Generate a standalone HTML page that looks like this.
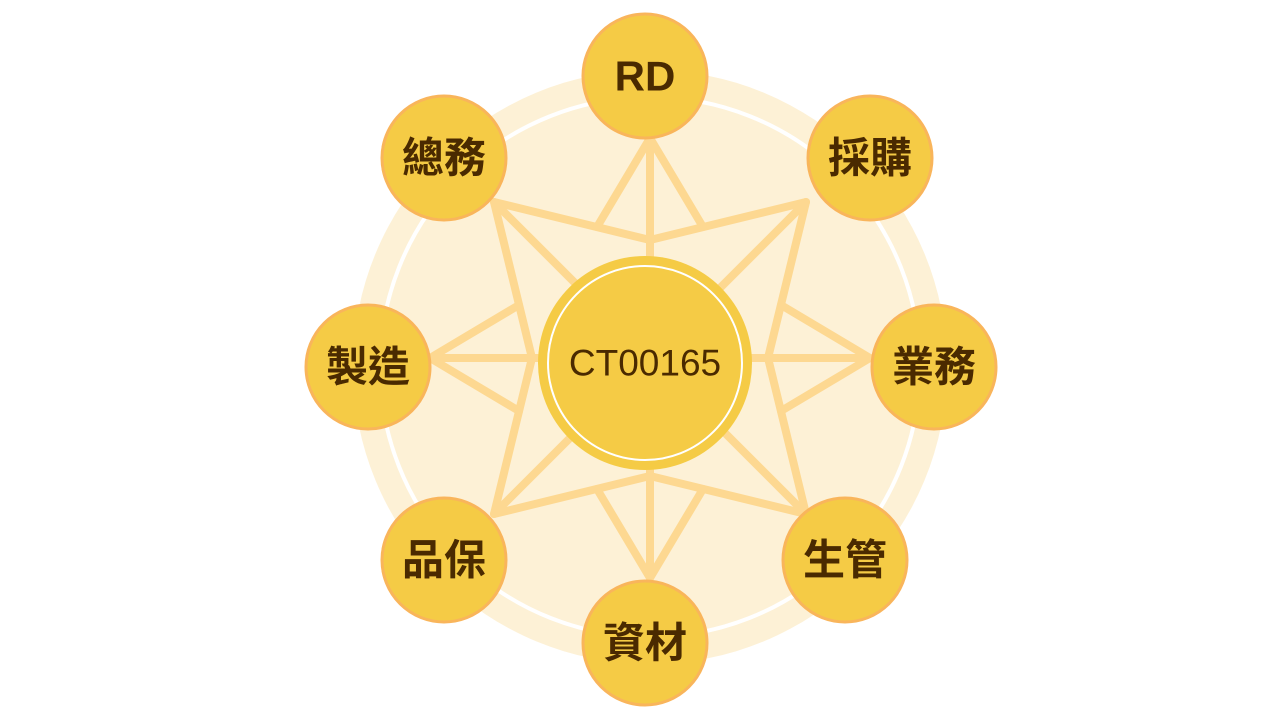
<!DOCTYPE html>
<html><head><meta charset="utf-8"><style>
html,body{margin:0;padding:0;background:#fff;width:1280px;height:720px;overflow:hidden}
svg{display:block}
.n{fill:#F5CB45;stroke:#F9B55B;stroke-width:3}
.t{font-family:"Liberation Sans","Noto Sans CJK TC",sans-serif;font-weight:bold;font-size:42px;fill:#4A2A00;text-anchor:middle;dominant-baseline:central}
</style></head><body>
<svg width="1280" height="720" viewBox="0 0 1280 720">
<circle cx="650" cy="367" r="297" fill="#FDF1D6"/>
<circle cx="650" cy="367" r="270" fill="none" stroke="#fff" stroke-width="4"/>
<g stroke="#FDD891" stroke-width="8" stroke-linecap="round" stroke-linejoin="round" fill="none">
<polygon points="806,202 650,240 494,202 532,358 494,514 650,476 806,514 768,358"/>
<polyline points="597,227 650,138 703,227"/>
<polyline points="781,305 870,358 781,411"/>
<polyline points="597,489 650,578 703,489"/>
<polyline points="519,305 430,358 519,411"/>
<line x1="650" y1="138" x2="650" y2="358"/>
<line x1="650" y1="578" x2="650" y2="358"/>
<line x1="430" y1="358" x2="650" y2="358"/>
<line x1="870" y1="358" x2="650" y2="358"/>
<line x1="806" y1="202" x2="650" y2="358"/>
<line x1="494" y1="202" x2="650" y2="358"/>
<line x1="806" y1="514" x2="650" y2="358"/>
<line x1="494" y1="514" x2="650" y2="358"/>
</g>
<circle cx="645" cy="363" r="107" fill="#F5CB45"/>
<circle cx="645" cy="363" r="97" fill="none" stroke="#fff" stroke-width="2"/>
<text x="645" y="363" text-anchor="middle" dominant-baseline="central" font-family="Liberation Sans, sans-serif" font-size="37" fill="#4A2A00">CT00165</text>
<circle class="n" cx="645" cy="76" r="62"/><text class="t" x="645" y="76">RD</text>
<circle class="n" cx="870" cy="158" r="62"/><text class="t" x="870" y="158">採購</text>
<circle class="n" cx="934" cy="367" r="62"/><text class="t" x="934" y="367">業務</text>
<circle class="n" cx="845" cy="560" r="62"/><text class="t" x="845" y="560">生管</text>
<circle class="n" cx="645" cy="643" r="62"/><text class="t" x="645" y="643">資材</text>
<circle class="n" cx="444" cy="560" r="62"/><text class="t" x="444" y="560">品保</text>
<circle class="n" cx="368" cy="367" r="62"/><text class="t" x="368" y="367">製造</text>
<circle class="n" cx="444" cy="158" r="62"/><text class="t" x="444" y="158">總務</text>
</svg>
</body></html>
